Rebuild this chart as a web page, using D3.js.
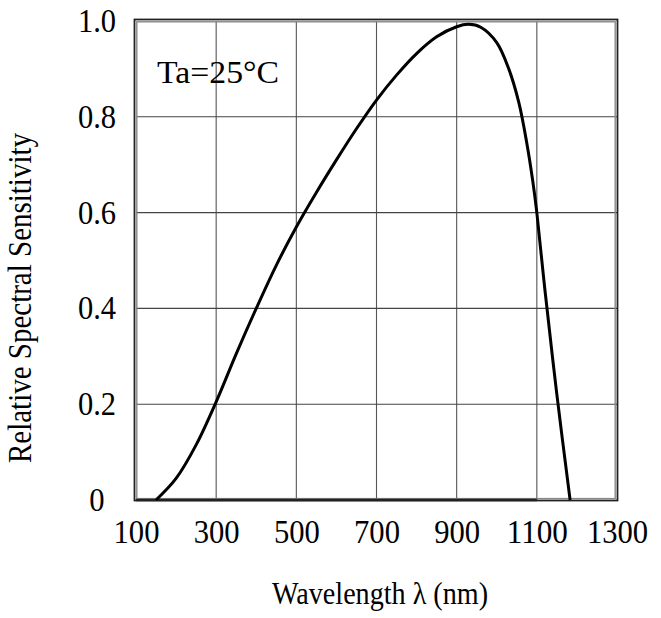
<!DOCTYPE html>
<meta charset="utf-8">
<title>Relative Spectral Sensitivity</title>
<style>
    body {
        margin: 0;
        background: #fff;
    }
    text {
        font-family: "Liberation Serif", "Times New Roman", serif;
        fill: #000;
    }
</style>

<body>
    <script src="https://d3js.org/d3.v7.min.js"></script>
    <script>
        /* Curve: wavelength (nm) and relative sensitivity */
        var wavelength = [150, 200, 250, 300, 350, 400, 450, 500, 550, 600, 650, 700, 750, 800, 850, 900, 930, 960, 1000, 1030, 1055, 1075, 1090, 1100, 1120, 1150, 1183];
        var sensitivity = [0, 0.045, 0.115, 0.205, 0.305, 0.40, 0.49, 0.57, 0.642, 0.71, 0.775, 0.835, 0.887, 0.932, 0.967, 0.988, 0.993, 0.987, 0.955, 0.9, 0.83, 0.745, 0.665, 0.6, 0.44, 0.22, 0];

        var xTicks = [100, 300, 500, 700, 900, 1100, 1300];
        var yTicks = [0, 0.2, 0.4, 0.6, 0.8, 1.0];

        /* Layout (plot box edges) */
        var width = 661,
            height = 618;
        var plotLeft = 136, plotRight = 617, plotTop = 21, plotBottom = 500;

        var svg = d3.select("body").append("svg")
            .attr("width", width)
            .attr("height", height);

        var x = d3.scaleLinear().domain([100, 1300]).range([plotLeft, plotRight]);
        var y = d3.scaleLinear().domain([0, 1]).range([plotBottom, plotTop]);

        // narrow, tall serif labels like the datasheet
        function labelLength(s) {
            return s.replace(/\./g, "").length * 15.3 + (s.match(/\./g) || []).length * 7.5;
        }

        // grid
        svg.append("g")
            .selectAll("line")
            .data(xTicks.slice(1, -1))
            .enter().append("line")
            .attr("x1", d => x(d)).attr("x2", d => x(d))
            .attr("y1", plotTop).attr("y2", plotBottom)
            .attr("stroke", "#555").attr("stroke-width", 1.1);

        svg.append("g")
            .selectAll("line")
            .data(yTicks.slice(1, -1))
            .enter().append("line")
            .attr("x1", plotLeft).attr("x2", plotRight)
            .attr("y1", d => y(d)).attr("y2", d => y(d))
            .attr("stroke", "#444").attr("stroke-width", 1.1);

        // double frame
        svg.append("rect")
            .attr("x", plotLeft - 1.5).attr("y", plotTop - 1.5)
            .attr("width", plotRight - plotLeft + 2).attr("height", plotBottom - plotTop + 2)
            .attr("fill", "none").attr("stroke", "#222").attr("stroke-width", 1.8);
        svg.append("rect")
            .attr("x", plotLeft + 0.8).attr("y", plotTop + 0.8)
            .attr("width", plotRight - plotLeft - 2.6).attr("height", plotBottom - plotTop - 2.2)
            .attr("fill", "none").attr("stroke", "#888").attr("stroke-width", 1.4);
        svg.append("line")
            .attr("x1", plotLeft).attr("x2", x(1100))
            .attr("y1", plotBottom).attr("y2", plotBottom)
            .attr("stroke", "#222").attr("stroke-width", 2.5);

        // curve
        var points = wavelength.map((w, i) => [w, sensitivity[i]]);
        var line = d3.line()
            .x(d => x(d[0]))
            .y(d => y(d[1]))
            .curve(d3.curveCatmullRom.alpha(0.5));

        svg.append("path")
            .datum(points)
            .attr("d", line)
            .attr("fill", "none")
            .attr("stroke", "#000")
            .attr("stroke-width", 3)
            .attr("stroke-linejoin", "round");

        // axes (labels only)
        var xAxis = svg.append("g")
            .attr("transform", "translate(0," + plotBottom + ")")
            .call(d3.axisBottom(x).tickValues(xTicks).tickSize(0).tickPadding(20)
                .tickFormat(d3.format("d")));
        xAxis.select(".domain").remove();
        xAxis.selectAll("text")
            .attr("font-size", 33)
            .attr("font-family", "Liberation Serif, serif")
            .attr("textLength", function () { return labelLength(this.textContent); })
            .attr("lengthAdjust", "spacingAndGlyphs");

        var yAxis = svg.append("g")
            .attr("transform", "translate(" + plotLeft + ",0)")
            .call(d3.axisLeft(y).tickValues(yTicks).tickSize(0)
                .tickFormat(d => d === 0 ? "0" : d3.format(".1f")(d)));
        yAxis.select(".domain").remove();
        yAxis.selectAll("text")
            .attr("font-size", 33)
            .attr("font-family", "Liberation Serif, serif")
            .attr("text-anchor", "middle")
            .attr("x", -39)
            .attr("textLength", function () { return labelLength(this.textContent); })
            .attr("lengthAdjust", "spacingAndGlyphs");

        // titles
        svg.append("text")
            .attr("x", 157).attr("y", 83)
            .attr("font-size", 32)
            .attr("textLength", 122)
            .attr("lengthAdjust", "spacingAndGlyphs")
            .text("Ta=25\u00B0C");

        svg.append("text")
            .attr("x", 380).attr("y", 604)
            .attr("text-anchor", "middle")
            .attr("font-size", 32)
            .attr("textLength", 216)
            .attr("lengthAdjust", "spacingAndGlyphs")
            .text("Wavelength \u03BB (nm)");

        svg.append("text")
            .attr("transform", "translate(31,298) rotate(-90)")
            .attr("text-anchor", "middle")
            .attr("font-size", 33)
            .attr("textLength", 330)
            .attr("lengthAdjust", "spacingAndGlyphs")
            .text("Relative Spectral Sensitivity");
    </script>
</body>
